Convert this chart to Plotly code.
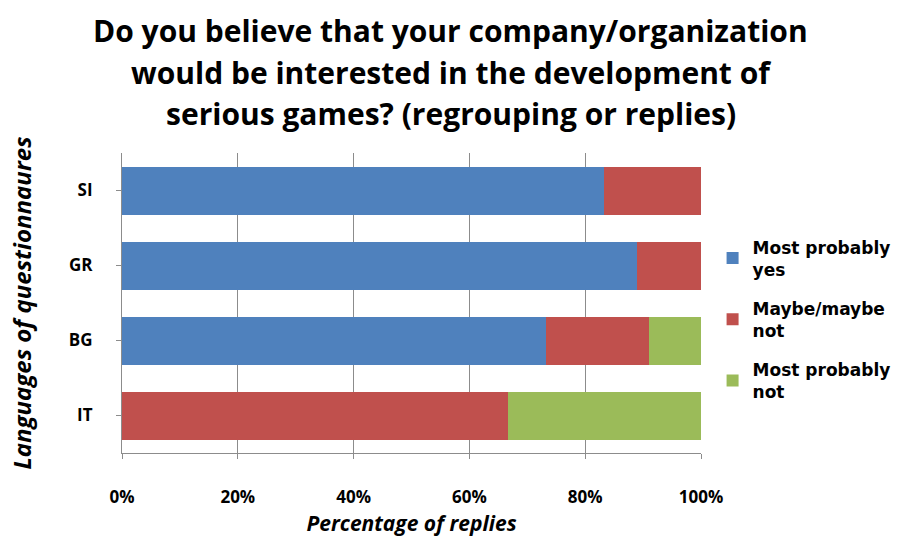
import plotly.graph_objects as go

# Survey answers per questionnaire language (share of replies, %)
languages = ["IT", "BG", "GR", "SI"]
most_probably_yes = [0.0, 73.3, 88.9, 83.3]
maybe_maybe_not = [66.7, 17.8, 11.1, 16.7]
most_probably_not = [33.3, 8.9, 0.0, 0.0]

series = [
    ("Most probably<br>yes", most_probably_yes, "#4F81BD"),
    ("Maybe/maybe<br>not", maybe_maybe_not, "#C0504D"),
    ("Most probably<br>not", most_probably_not, "#9BBB59"),
]

title_lines = [
    "Do you believe that your company/organization",
    "would be interested in the development of",
    "serious games? (regrouping or replies)",
]

FONT = "Open Sans"
LEGEND_FONT = "DejaVu Sans"

fig = go.Figure()
for i, (name, vals, color) in enumerate(series):
    fig.add_trace(go.Bar(
        y=languages, x=vals, name=name, orientation="h",
        legendgroup=f"g{i}",
        marker=dict(color=color, line=dict(width=0)),
    ))

# Three-line heading, spaced like the original chart title
for line, ypos in zip(title_lines, [1.41, 1.27, 1.133]):
    fig.add_annotation(
        text=f"<b>{line}</b>", xref="paper", yref="paper",
        x=0.568, y=ypos, xanchor="center", yanchor="middle",
        showarrow=False, font=dict(family=FONT, size=30, color="black"),
    )

fig.update_layout(
    width=904, height=543,
    barmode="stack", bargap=0.36,
    paper_bgcolor="white", plot_bgcolor="white",
    margin=dict(l=122, r=203, t=153, b=90, autoexpand=False),
    font=dict(family=FONT, color="black"),
    legend=dict(
        x=1.02, xanchor="left", y=0.745, yanchor="top",
        font=dict(family=LEGEND_FONT, size=17, color="black", weight="bold"),
        traceorder="grouped", itemwidth=30,
        tracegroupgap=14,
    ),
    showlegend=True,
)

fig.update_xaxes(
    range=[0, 100], tickvals=[0, 20, 40, 60, 80, 100],
    ticktext=["0%", "20%", "40%", "60%", "80%", "100%"],
    showgrid=True, gridcolor="#8C8C8C", gridwidth=1,
    showline=True, linecolor="#8C8C8C", linewidth=1,
    ticks="outside", ticklen=5, tickcolor="#8C8C8C",
    tickfont=dict(family=FONT, size=17, color="black", weight="bold"),
    ticklabelstandoff=24,
    title=dict(text="<b><i>Percentage of replies</i></b>",
               font=dict(family=FONT, size=21, color="black"), standoff=8),
    zeroline=False,
)
fig.update_yaxes(
    showline=True, linecolor="#8C8C8C", linewidth=1,
    ticks="outside", ticklen=5, tickcolor="#8C8C8C",
    tickfont=dict(family=FONT, size=17, color="black", weight="bold"),
    ticklabelstandoff=20,
    title=dict(text="<b><i>Languages of questionnaures</i></b>",
               font=dict(family=FONT, size=24, color="black"), standoff=30),
)

fig.write_html("out.html")
